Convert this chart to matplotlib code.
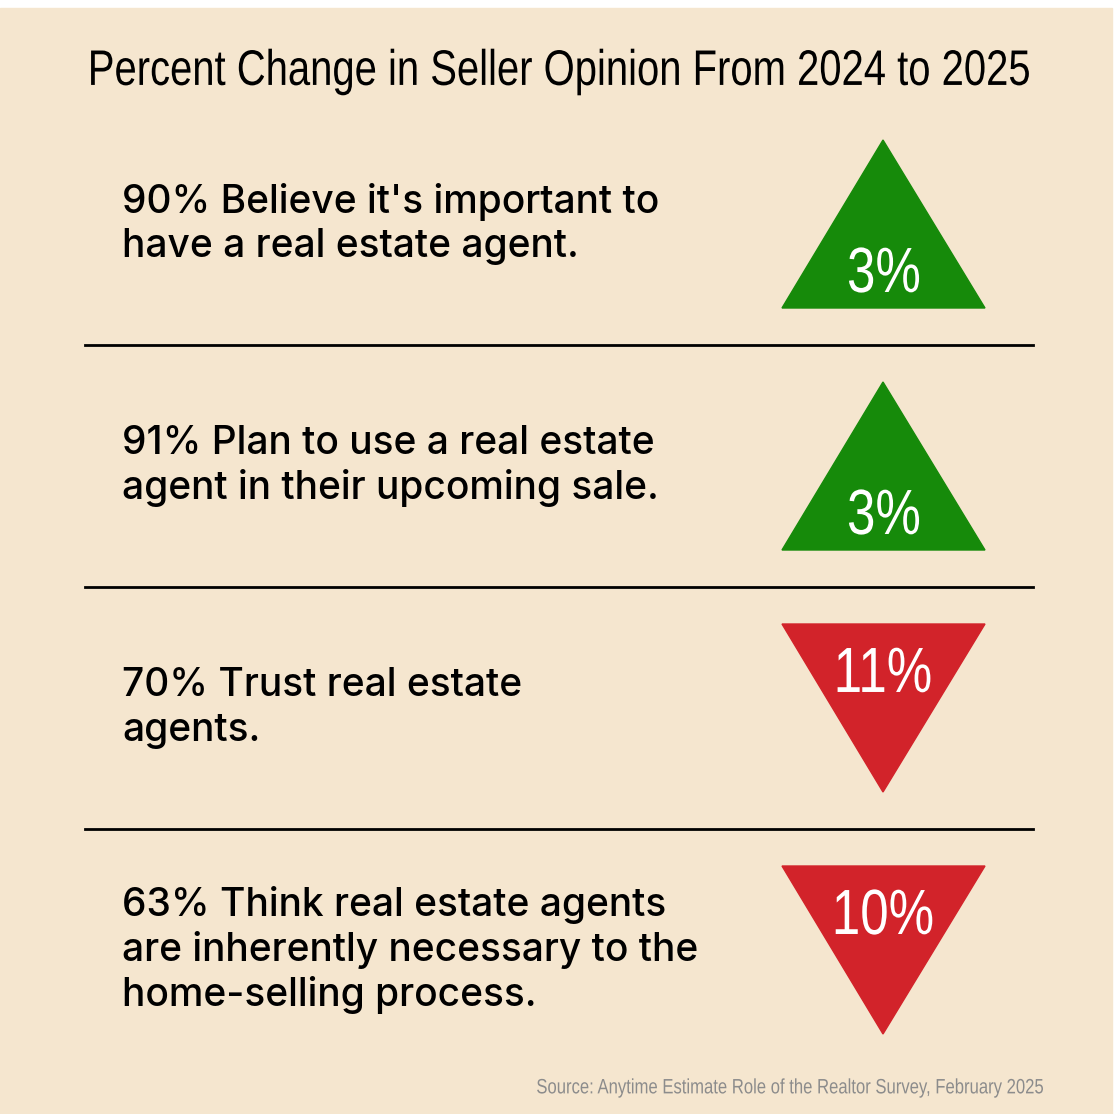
import matplotlib.pyplot as plt
from matplotlib.patches import Polygon, Rectangle, PathPatch
from matplotlib.textpath import TextPath
from matplotlib.font_manager import FontProperties
from matplotlib.transforms import Affine2D

title = "Percent Change in Seller Opinion From 2024 to 2025"
statements = [
    "90% Believe it's important to\nhave a real estate agent.",
    "91% Plan to use a real estate\nagent in their upcoming sale.",
    "70% Trust real estate\nagents.",
    "63% Think real estate agents\nare inherently necessary to the\nhome-selling process.",
]
changes = [3, 3, -11, -10]
source = "Source: Anytime Estimate Role of the Realtor Survey, February 2025"

W, H = 1120, 1114
fig = plt.figure(figsize=(W / 100, H / 100), dpi=100)
fig.patch.set_facecolor("white")
ax = fig.add_axes([0, 0, 1, 1])
ax.set_xlim(0, W)
ax.set_ylim(H, 0)
ax.axis("off")

cond_prop = FontProperties(family="Liberation Sans")


def narrow_text(s, x, y, cap, stretch, color, ha="center", zorder=3):
    # condensed look: draw the glyph outlines squeezed horizontally
    tp = TextPath((0, 0), s, size=cap / 0.72, prop=cond_prop)
    ext = tp.get_extents()
    w = ext.width * stretch
    x0 = {"center": x - w / 2, "left": x, "right": x - w}[ha]
    tr = Affine2D().translate(-ext.x0, -(ext.y0 + ext.y1) / 2).scale(stretch, -1).translate(x0, y)
    ax.add_patch(PathPatch(tr.transform_path(tp), color=color, lw=0, zorder=zorder))


bg = "#F5E6CF"
ax.add_patch(Rectangle((0, 8), 1112, H - 8, color=bg, zorder=0))

narrow_text(title, 560, 72, 36, 0.80, "black")

row_top, row_h, tri_h = 140, 242, 168
green, red = "#168A0A", "#D2232A"
for i, (txt, ch) in enumerate(zip(statements, changes)):
    top = row_top + i * row_h
    mid = top + tri_h / 2
    ax.text(122, mid, txt, ha="left", va="center", fontsize=28,
            family="Inter", weight="medium", color="black", linespacing=1.25)
    if ch > 0:
        pts = [(883, top), (782, top + tri_h), (985, top + tri_h)]
        ty = top + tri_h - 38
        col = green
    else:
        pts = [(782, top), (985, top), (883, top + tri_h)]
        ty = top + 46
        col = red
    ax.add_patch(Polygon(pts, closed=True, color=col, zorder=2))
    narrow_text(f"{abs(ch)}%", 884, ty, 46, 0.80, "white")
    if i < len(statements) - 1:
        y = top + 205
        ax.plot([85, 1033], [y, y], color="black", lw=2, zorder=1)

narrow_text(source, 1043, 1088, 15, 0.80, "#8C8C8C", ha="right")

fig.savefig("out.png", dpi=100, facecolor=fig.get_facecolor())
